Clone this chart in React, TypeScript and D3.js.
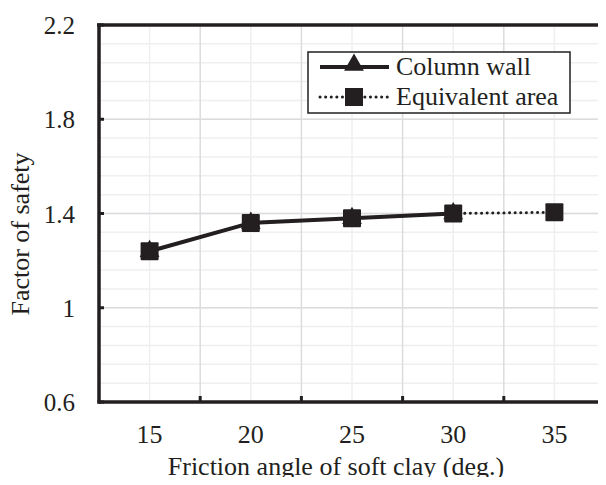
import { useEffect, useRef } from "react";
import * as d3 from "d3";

const angles = ["15", "20", "25", "30", "35"];
const columnWall = [1.24, 1.36, 1.38, 1.4];
const equivalentArea = [1.24, 1.36, 1.38, 1.4, 1.405];
const yTicks = [0.6, 1, 1.4, 1.8, 2.2];
const yMinor = d3.range(0, 21).map((i) => 0.6 + i * 0.08);

const INK = "#231f20";
const FONT = "Liberation Serif, Times New Roman, serif";

export default function App() {
  const svgRef = useRef<SVGSVGElement>(null);

  useEffect(() => {
    if (!svgRef.current) return;
    const x0 = 99;
    const xEnd = 605;
    const x1 = 602;
    const y0 = 402;
    const y1 = 25;

    const svg = d3.select(svgRef.current);
    svg.selectAll("*").remove();

    const x = d3.scaleBand<string>().domain(angles).range([x0, xEnd]).padding(0);
    const cx = (a: string) => (x(a) ?? 0) + x.bandwidth() / 2;
    const y = d3.scaleLinear().domain([0.6, 2.2]).range([y0, y1]);

    // gridlines: minor every 0.08, major every 0.4, vertical at centres and boundaries
    const grid = svg.append("g");
    grid
      .selectAll("line.minor")
      .data(yMinor)
      .join("line")
      .attr("x1", x0)
      .attr("x2", x1)
      .attr("y1", (d) => y(d))
      .attr("y2", (d) => y(d))
      .attr("stroke", "#efeff1")
      .attr("stroke-width", 1.5);
    grid
      .selectAll("line.vc")
      .data(angles)
      .join("line")
      .attr("x1", (d) => cx(d))
      .attr("x2", (d) => cx(d))
      .attr("y1", y0)
      .attr("y2", y1)
      .attr("stroke", "#efeff1")
      .attr("stroke-width", 1.5);
    grid
      .selectAll("line.vb")
      .data(angles.slice(1))
      .join("line")
      .attr("x1", (d) => x(d) ?? 0)
      .attr("x2", (d) => x(d) ?? 0)
      .attr("y1", y0)
      .attr("y2", y1)
      .attr("stroke", "#dcdcdf")
      .attr("stroke-width", 1.5);
    grid
      .selectAll("line.major")
      .data(yTicks)
      .join("line")
      .attr("x1", x0)
      .attr("x2", x1)
      .attr("y1", (d) => y(d))
      .attr("y2", (d) => y(d))
      .attr("stroke", "#dcdcdf")
      .attr("stroke-width", 1.5);

    // frame
    svg
      .append("line")
      .attr("x1", x1)
      .attr("x2", x1)
      .attr("y1", y1)
      .attr("y2", y0)
      .attr("stroke", INK)
      .attr("stroke-width", 2);
    svg
      .append("line")
      .attr("x1", x0 - 2)
      .attr("x2", x1 + 1)
      .attr("y1", y1)
      .attr("y2", y1)
      .attr("stroke", INK)
      .attr("stroke-width", 3.5);
    svg
      .append("line")
      .attr("x1", x0 - 1.5)
      .attr("x2", x1 + 1)
      .attr("y1", y0)
      .attr("y2", y0)
      .attr("stroke", INK)
      .attr("stroke-width", 3.5);
    svg
      .append("line")
      .attr("x1", x0)
      .attr("x2", x0)
      .attr("y1", y1 - 1.5)
      .attr("y2", y0 + 1.5)
      .attr("stroke", INK)
      .attr("stroke-width", 3.5);

    // inner ticks
    svg
      .append("g")
      .selectAll("line")
      .data(yTicks)
      .join("line")
      .attr("x1", x0)
      .attr("x2", x0 + 5)
      .attr("y1", (d) => y(d))
      .attr("y2", (d) => y(d))
      .attr("stroke", INK)
      .attr("stroke-width", 3);
    svg
      .append("g")
      .selectAll("line")
      .data(angles.slice(1))
      .join("line")
      .attr("x1", (d) => x(d) ?? 0)
      .attr("x2", (d) => x(d) ?? 0)
      .attr("y1", y0)
      .attr("y2", y0 - 6)
      .attr("stroke", INK)
      .attr("stroke-width", 3);

    // tick labels
    svg
      .append("g")
      .selectAll("text")
      .data(yTicks)
      .join("text")
      .attr("x", 75)
      .attr("y", (d) => y(d))
      .attr("dy", "0.36em")
      .attr("text-anchor", "end")
      .attr("font-family", FONT)
      .attr("font-size", 25)
      .attr("fill", INK)
      .text((d) => String(d));
    svg
      .append("g")
      .selectAll("text")
      .data(angles)
      .join("text")
      .attr("x", (d) => cx(d))
      .attr("y", 443)
      .attr("text-anchor", "middle")
      .attr("font-family", FONT)
      .attr("font-size", 26)
      .attr("fill", INK)
      .text((d) => d);

    // axis titles
    svg
      .append("text")
      .attr("x", 336)
      .attr("y", 475)
      .attr("text-anchor", "middle")
      .attr("font-family", FONT)
      .attr("font-size", 26)
      .attr("fill", INK)
      .text("Friction angle of soft clay (deg.)");
    svg
      .append("text")
      .attr("transform", "translate(29,234) rotate(-90)")
      .attr("text-anchor", "middle")
      .attr("font-family", FONT)
      .attr("font-size", 26)
      .attr("fill", INK)
      .text("Factor of safety");

    // series
    const seriesLine = d3
      .line<number>()
      .x((_, i) => cx(angles[i]))
      .y((d) => y(d));
    svg
      .append("path")
      .datum(equivalentArea)
      .attr("d", seriesLine)
      .attr("fill", "none")
      .attr("stroke", INK)
      .attr("stroke-width", 3)
      .attr("stroke-linecap", "round")
      .attr("stroke-dasharray", "0.1,5.5");
    svg
      .append("path")
      .datum(columnWall)
      .attr("d", seriesLine)
      .attr("fill", "none")
      .attr("stroke", INK)
      .attr("stroke-width", 4);

    const tri = d3.symbol(d3.symbolTriangle, 170);
    svg
      .append("g")
      .selectAll("path")
      .data(columnWall)
      .join("path")
      .attr("transform", (d, i) => `translate(${cx(angles[i])},${y(d)})`)
      .attr("d", tri)
      .attr("fill", INK);
    const sq = 18;
    svg
      .append("g")
      .selectAll("rect")
      .data(equivalentArea)
      .join("rect")
      .attr("x", (_, i) => cx(angles[i]) - sq / 2)
      .attr("y", (d) => y(d) - sq / 2)
      .attr("width", sq)
      .attr("height", sq)
      .attr("rx", 1)
      .attr("fill", INK);

    // legend
    const lg = svg.append("g");
    lg.append("rect")
      .attr("x", 308)
      .attr("y", 52)
      .attr("width", 262)
      .attr("height", 61)
      .attr("fill", "#fff")
      .attr("stroke", INK)
      .attr("stroke-width", 1.5);
    lg.append("line")
      .attr("x1", 320)
      .attr("x2", 389)
      .attr("y1", 67)
      .attr("y2", 67)
      .attr("stroke", INK)
      .attr("stroke-width", 4);
    lg.append("path")
      .attr("transform", "translate(354,65)")
      .attr("d", tri)
      .attr("fill", INK);
    lg.append("line")
      .attr("x1", 320)
      .attr("x2", 389)
      .attr("y1", 97)
      .attr("y2", 97)
      .attr("stroke", INK)
      .attr("stroke-width", 3)
      .attr("stroke-linecap", "round")
      .attr("stroke-dasharray", "0.1,5.5");
    lg.append("rect")
      .attr("x", 354 - sq / 2)
      .attr("y", 97 - sq / 2)
      .attr("width", sq)
      .attr("height", sq)
      .attr("fill", INK);
    lg.append("text")
      .attr("x", 396)
      .attr("y", 75)
      .attr("font-family", FONT)
      .attr("font-size", 26)
      .attr("fill", INK)
      .text("Column wall");
    lg.append("text")
      .attr("x", 396)
      .attr("y", 105)
      .attr("font-family", FONT)
      .attr("font-size", 26)
      .attr("fill", INK)
      .text("Equivalent area");
  }, []);

  return (
    <div style={{ margin: -8 }}>
      <svg ref={svgRef} width={606} height={485} style={{ display: "block" }} />
    </div>
  );
}
